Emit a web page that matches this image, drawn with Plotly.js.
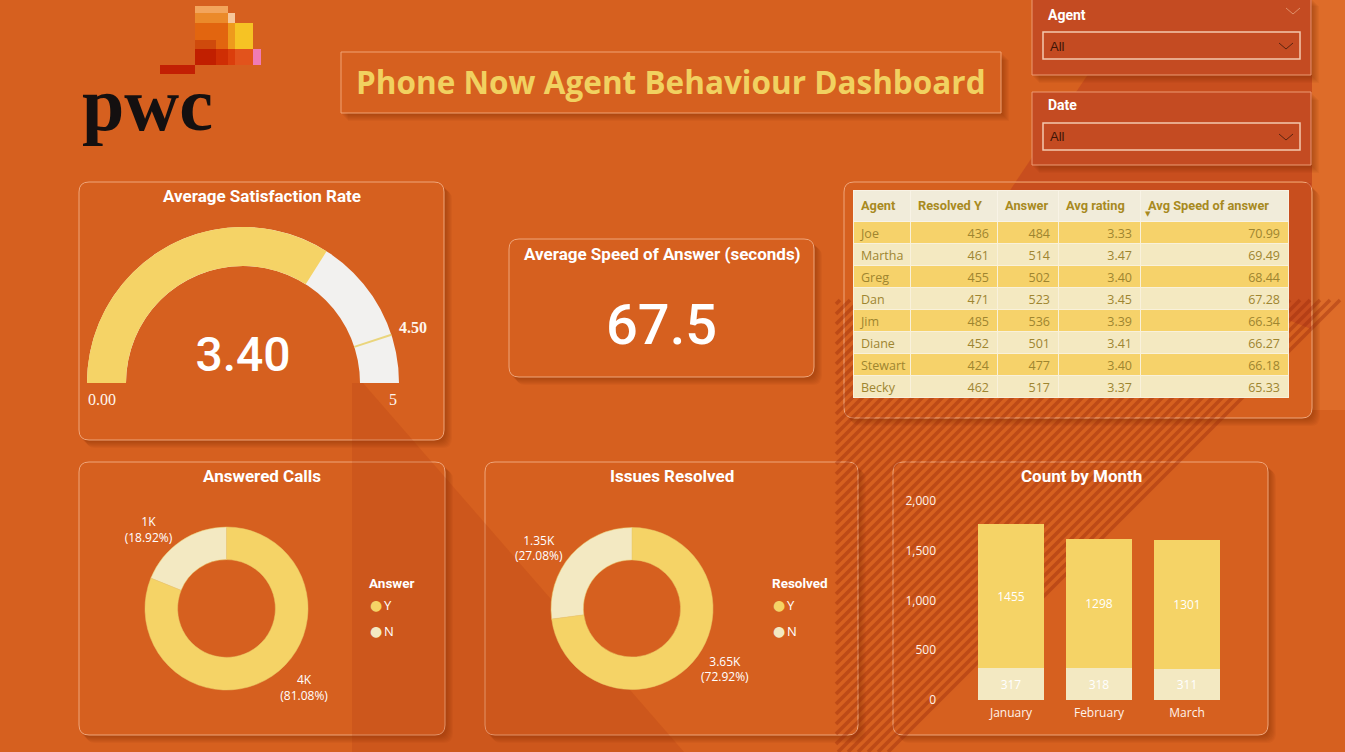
<!DOCTYPE html>
<html>
<head>
<meta charset="utf-8">
<script src="https://cdn.plot.ly/plotly-3.0.1.min.js"></script>
<style>
html,body{margin:0;padding:0;background:#D6601F;overflow:hidden;}
#chart{width:1345px;height:752px;}
</style>
</head>
<body>
<div id="chart"></div>
<script>
// ---------------- DATA ----------------
const avgSatisfaction = 3.40;
const satisfactionMin = 0;
const satisfactionMax = 5;
const satisfactionTarget = 4.5;
const avgSpeedOfAnswer = 67.5;

const tableHeaders = ['Agent', 'Resolved Y', 'Answer', 'Avg rating', 'Avg Speed of answer'];
const agents = ['Joe', 'Martha', 'Greg', 'Dan', 'Jim', 'Diane', 'Stewart', 'Becky'];
const resolvedY = [436, 461, 455, 471, 485, 452, 424, 462];
const answered = [484, 514, 502, 523, 536, 501, 477, 517];
const avgRating = [3.33, 3.47, 3.40, 3.45, 3.39, 3.41, 3.40, 3.37];
const avgSpeed = [70.99, 69.49, 68.44, 67.28, 66.34, 66.27, 66.18, 65.33];

const ynLabels = ['Y', 'N'];
const answerCounts = [4054, 946];
const answerShort = ['4K', '1K'];
const resolvedCounts = [3646, 1354];
const resolvedShort = ['3.65K', '1.35K'];

const months = ['January', 'February', 'March'];
const monthY = [1455, 1298, 1301];
const monthN = [317, 318, 311];
const countTicks = [0, 500, 1000, 1500, 2000];

// ---------------- HELPERS ----------------
const W = 1345, H = 752;
const X = p => p / W;
const Y = p => 1 - p / H;
const YEL = '#F5D366', CREAM = '#F3E9C2', BG = '#D6601F';
const WHITE = '#FFFFFF';

function rr(x0, y0, x1, y1, r) {
  return `M${X(x0 + r)},${Y(y0)} L${X(x1 - r)},${Y(y0)} Q${X(x1)},${Y(y0)} ${X(x1)},${Y(y0 + r)} ` +
         `L${X(x1)},${Y(y1 - r)} Q${X(x1)},${Y(y1)} ${X(x1 - r)},${Y(y1)} L${X(x0 + r)},${Y(y1)} ` +
         `Q${X(x0)},${Y(y1)} ${X(x0)},${Y(y1 - r)} L${X(x0)},${Y(y0 + r)} Q${X(x0)},${Y(y0)} ${X(x0 + r)},${Y(y0)} Z`;
}
function poly(pts) {
  return 'M' + pts.map(p => `${X(p[0])},${Y(p[1])}`).join(' L') + ' Z';
}
const shapes = [];
function addRect(x0, y0, x1, y1, color) {
  shapes.push({type: 'rect', xref: 'paper', yref: 'paper', x0: X(x0), x1: X(x1), y0: Y(y1), y1: Y(y0),
    fillcolor: color, line: {width: 0}, layer: 'below'});
}
function addPoly(pts, color) {
  shapes.push({type: 'path', xref: 'paper', yref: 'paper', path: poly(pts),
    fillcolor: color, line: {width: 0}, layer: 'below'});
}
function addCard(x0, y0, x1, y1, r, fill, border) {
  for (let i = 1; i <= 7; i++) {
    shapes.push({type: 'path', xref: 'paper', yref: 'paper', path: rr(x0 + i, y0 + i + 1, x1 + i + 1, y1 + i + 1, r),
      fillcolor: 'rgba(110,35,5,0.055)', line: {width: 0}, layer: 'below'});
  }
  shapes.push({type: 'path', xref: 'paper', yref: 'paper', path: rr(x0, y0, x1, y1, r),
    fillcolor: fill, line: {color: border, width: 1}, layer: 'below'});
}
function chevron(cx, cy, color) {
  shapes.push({type: 'path', xref: 'paper', yref: 'paper',
    path: `M${X(cx - 7)},${Y(cy - 3)} L${X(cx)},${Y(cy + 3)} L${X(cx + 7)},${Y(cy - 3)}`,
    line: {color: color, width: 1}, layer: 'below'});
}

// ---------------- BACKGROUND ----------------
addRect(1312, 0, 1345, 410, '#DE6C29');
addPoly([[1000, 205], [1138, 0], [1312, 0], [1312, 330]], 'rgba(185,58,28,0.45)');

// ---------------- LOGO ----------------
const logoBlocks = [
  [195, 6, 228, 13, '#F3A55C'],
  [195, 13, 228, 23, '#EB8A2A'], [228, 13, 235, 23, '#F7C79A'],
  [195, 23, 228, 49, '#E2650F'], [228, 23, 235, 49, '#EE9A1C'], [235, 23, 253, 49, '#F6C324'],
  [195, 40, 216, 49, '#CF4A0C'],
  [195, 49, 216, 65, '#C11F00'], [216, 49, 228, 65, '#CF2E04'], [228, 49, 235, 65, '#DB3E0C'],
  [235, 49, 253, 65, '#E2531C'], [253, 49, 261, 65, '#F07BB5'],
  [160, 65, 195, 74, '#C22004']
];
logoBlocks.forEach(b => addRect(b[0], b[1], b[2], b[3], b[4]));

// ---------------- CARDS ----------------
addCard(341, 52, 1001, 113, 0, BG, '#F0A274');           // title
addCard(1032, -2, 1311, 75, 0, '#C44B22', '#EC9A72');     // agent slicer
addCard(1032, 92, 1311, 165, 0, '#C44B22', '#EC9A72');    // date slicer
shapes.push({type: 'rect', xref: 'paper', yref: 'paper', x0: X(1043), x1: X(1300), y0: Y(59), y1: Y(32),
  line: {color: '#F3C9AE', width: 1.5}, layer: 'below'});
shapes.push({type: 'rect', xref: 'paper', yref: 'paper', x0: X(1043), x1: X(1300), y0: Y(150), y1: Y(123),
  line: {color: '#F3C9AE', width: 1.5}, layer: 'below'});
chevron(1286, 46, '#5A2410');
chevron(1286, 137, '#5A2410');
chevron(1293, 11, '#E0906A');

addCard(79, 182, 444, 440, 10, BG, '#EFA57A');   // gauge
addCard(509, 239, 814, 377, 10, BG, '#EFA57A');  // speed
addCard(844, 182, 1312, 418, 10, BG, '#EFA57A'); // table
addCard(79, 462, 445, 735, 10, BG, '#EFA57A');   // answered
addCard(485, 462, 858, 735, 10, BG, '#EFA57A');  // resolved
addCard(893, 462, 1268, 735, 10, BG, '#EFA57A'); // count by month

// background textures that show through the cards
addPoly([[1015, 183], [1311, 183], [1311, 329], [1000, 205]], 'rgba(185,58,28,0.45)');
addPoly([[352, 383], [363, 383], [684, 752], [352, 752]], 'rgba(160,45,15,0.16)');
let stripePath = '';
for (let c = 1140; c <= 1640; c += 10) {
  let xa = Math.max(836, c - 752), ya = c - xa;
  let yb = Math.max(300, c - 1345), xb = c - yb;
  if (xb > 1345) { xb = 1345; yb = c - xb; }
  if (xa < xb) stripePath += `M${X(xa)},${Y(ya)} L${X(xb)},${Y(yb)} `;
}
shapes.push({type: 'path', xref: 'paper', yref: 'paper', path: stripePath,
  line: {color: 'rgba(150,40,10,0.38)', width: 3.5}, layer: 'below'});

// ---------------- TRACES ----------------
const traces = [];

traces.push({
  type: 'indicator', mode: 'gauge+number', value: avgSatisfaction,
  number: {valueformat: '.2f', font: {family: 'Roboto', size: 48, color: WHITE, weight: 500}},
  gauge: {
    shape: 'angular',
    axis: {range: [satisfactionMin, satisfactionMax], visible: false},
    bar: {color: YEL, thickness: 1},
    bgcolor: '#F2F1EF', borderwidth: 0,
    threshold: {value: satisfactionTarget, line: {color: '#EAD57C', width: 2}, thickness: 1}
  },
  domain: {x: [X(87), X(399)], y: [Y(383), Y(227)]}
});

traces.push({
  type: 'indicator', mode: 'number', value: avgSpeedOfAnswer,
  number: {valueformat: '.1f', font: {family: 'Roboto', size: 56, color: WHITE, weight: 500}},
  domain: {x: [X(509), X(814)], y: [Y(365), Y(285)]}
});

const rowFill = agents.map((_, i) => i % 2 === 0 ? '#F6D26A' : '#F4E9C1');
traces.push({
  type: 'table',
  columnwidth: [57, 87, 61, 82, 148],
  header: {
    values: tableHeaders.map(h => '<b>' + h + '</b>'),
    align: ['left', 'left', 'left', 'left', 'left'],
    fill: {color: '#F1ECDA'},
    font: {family: 'Roboto', size: 12.8, color: '#A88A1F'},
    height: 28,
    line: {color: '#F8F3E6', width: 1}
  },
  cells: {
    values: [agents, resolvedY, answered, avgRating, avgSpeed],
    format: ['', '', '', '.2f', '.2f'],
    align: ['left', 'right', 'right', 'right', 'right'],
    fill: {color: [rowFill, rowFill, rowFill, rowFill, rowFill]},
    font: {family: 'Open Sans', size: 12.5, color: '#9E8530'},
    height: 22,
    line: {color: '#F9F1DA', width: 1}
  },
  domain: {x: [X(853), X(1288)], y: [Y(404), Y(190)]}
});

function donut(values, shortText, x0, x1, y0, y1) {
  return {
    type: 'pie', labels: ynLabels, values: values, text: shortText,
    hole: 0.6, sort: false, direction: 'clockwise', rotation: 0,
    marker: {colors: [YEL, CREAM], line: {color: '#EACB6A', width: 0.5}},
    textposition: 'outside',
    texttemplate: '%{text}<br>(%{percent:.2%})',
    outsidetextfont: {family: 'Open Sans', size: 12, color: WHITE},
    showlegend: false,
    domain: {x: [X(x0), X(x1)], y: [Y(y1), Y(y0)]}
  };
}
traces.push(donut(answerCounts, answerShort, 145, 308, 527, 690));
traces.push(donut(resolvedCounts, resolvedShort, 551, 713, 527, 690));

traces.push({
  type: 'bar', name: 'N', x: months, y: monthN, marker: {color: CREAM},
  texttemplate: '%{y:.0f}', textposition: 'inside', insidetextanchor: 'middle',
  textfont: {family: 'Open Sans', size: 12, color: WHITE}, showlegend: false, hoverinfo: 'skip'
});
traces.push({
  type: 'bar', name: 'Y', x: months, y: monthY, marker: {color: YEL},
  texttemplate: '%{y:.0f}', textposition: 'inside', insidetextanchor: 'middle',
  textfont: {family: 'Open Sans', size: 12, color: WHITE}, showlegend: false, hoverinfo: 'skip'
});

// ---------------- ANNOTATIONS ----------------
const ann = [];
function txt(text, x, y, opts) {
  ann.push(Object.assign({xref: 'paper', yref: 'paper', x: X(x), y: Y(y), text: text, showarrow: false,
    xanchor: 'center', yanchor: 'middle', font: {family: 'Roboto', size: 13, color: WHITE}}, opts || {}));
}
txt('pwc', 147, 104, {font: {family: 'Liberation Serif', size: 76, color: '#141010', weight: 700}});
txt('Phone Now Agent Behaviour Dashboard', 671, 81, {font: {family: 'Open Sans', size: 31.5, color: '#F1D160', weight: 700}});

txt('Agent', 1046, 15, {xanchor: 'left', font: {family: 'Roboto', size: 14, color: WHITE, weight: 700}});
txt('All', 1048, 46, {xanchor: 'left', font: {family: 'Liberation Sans', size: 13, color: '#3C1406'}});
txt('Date', 1046, 105, {xanchor: 'left', font: {family: 'Roboto', size: 14, color: WHITE, weight: 700}});
txt('All', 1048, 137, {xanchor: 'left', font: {family: 'Liberation Sans', size: 13, color: '#3C1406'}});

const cardTitle = {family: 'Roboto', size: 17, color: WHITE, weight: 700};
txt('Average Satisfaction Rate', 262, 196, {font: cardTitle});
txt('Average Speed of Answer (seconds)', 662, 254, {font: cardTitle});
txt('Answered Calls', 262, 476, {font: cardTitle});
txt('Issues Resolved', 672, 476, {font: cardTitle});
txt('Count by Month', 1081, 476, {font: cardTitle});

const gaugeLbl = {family: 'Liberation Serif', size: 16, color: '#FFF6EC'};
txt(satisfactionMin.toFixed(2), 102, 399, {font: gaugeLbl});
txt(String(satisfactionMax), 393, 399, {font: gaugeLbl});
txt(satisfactionTarget.toFixed(2), 413, 327, {font: Object.assign({}, gaugeLbl, {weight: 700})});

txt('▼', 1148, 214, {font: {family: 'DejaVu Sans', size: 7, color: '#A88A1F'}});

function legend(title, x, y) {
  txt(title, x, y, {xanchor: 'left', font: {family: 'Roboto', size: 13.5, color: WHITE, weight: 700}});
  const cols = [YEL, CREAM];
  ynLabels.forEach((l, i) => {
    const yy = y + 22 + i * 26;
    txt('●', x + 9, yy, {font: {family: 'DejaVu Sans', size: 14, color: cols[i]}});
    txt(l, x + 15, yy, {xanchor: 'left', font: {family: 'Open Sans', size: 13, color: WHITE}});
  });
}
legend('Answer', 367, 583);
legend('Resolved', 770, 583);

// ---------------- LAYOUT ----------------
const layout = {
  width: W, height: H,
  margin: {l: 0, r: 0, t: 0, b: 0, pad: 0},
  paper_bgcolor: BG, plot_bgcolor: 'rgba(0,0,0,0)',
  showlegend: false,
  barmode: 'stack', bargap: 0.24,
  font: {family: 'Open Sans', color: WHITE},
  xaxis: {domain: [X(967), X(1231)], anchor: 'y', showgrid: false, zeroline: false, showline: false,
    ticks: '', ticklabelstandoff: 4, tickfont: {family: 'Open Sans', size: 12, color: '#FFF3EA'}, fixedrange: true},
  yaxis: {domain: [Y(700), Y(501)], range: [0, 2000], tickvals: countTicks, tickformat: ',',
    anchor: 'free', position: X(936), showgrid: false, zeroline: false, showline: false, ticks: '',
    tickfont: {family: 'Open Sans', size: 12, color: '#FFF3EA'}, fixedrange: true},
  shapes: shapes,
  annotations: ann
};

Plotly.newPlot('chart', traces, layout, {displayModeBar: false, staticPlot: true});
</script>
</body>
</html>
